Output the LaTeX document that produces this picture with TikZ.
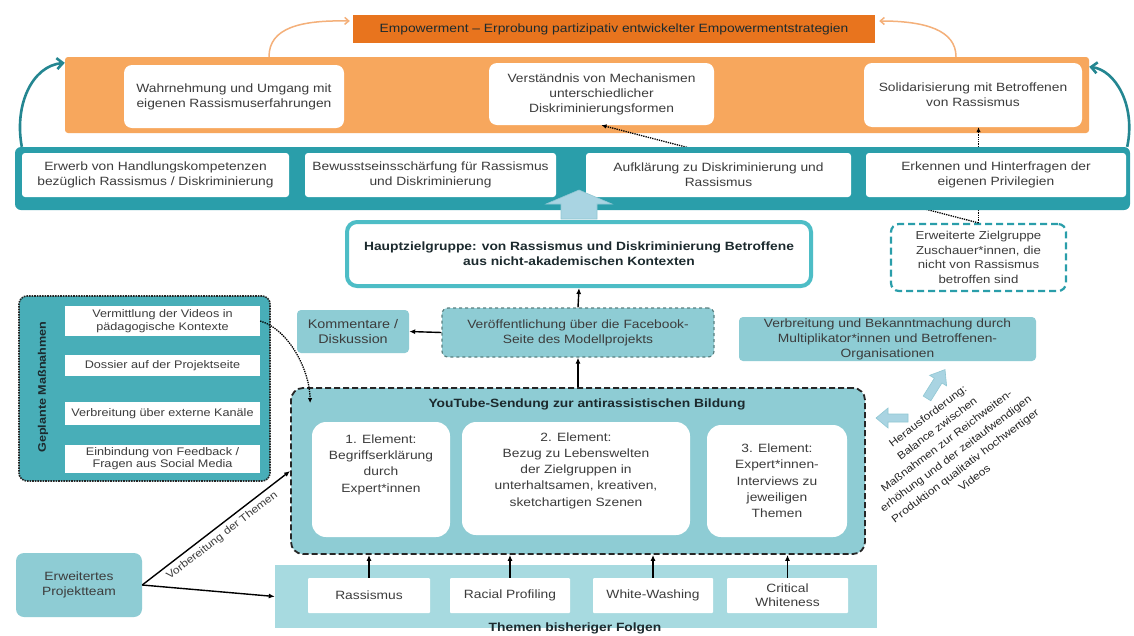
\documentclass[tikz,border=0pt]{standalone}
\usepackage{fontspec}
\setmainfont[FakeStretch=1.15]{Liberation Sans}
\usetikzlibrary{positioning,calc,arrows.meta}

\definecolor{orangedark}{HTML}{E8741E}
\definecolor{orangelight}{HTML}{F7A75D}
\definecolor{orangeline}{HTML}{F4B07A}
\definecolor{tealdark}{HTML}{2A9EAA}
\definecolor{tealmid}{HTML}{48AEB8}
\definecolor{teallight}{HTML}{8ECCD4}
\definecolor{tealpale}{HTML}{A7DAE0}
\definecolor{tealrim}{HTML}{4DBDC6}
\definecolor{blockblue}{HTML}{A9D4E2}
\definecolor{textgrey}{HTML}{3C3C3C}
\definecolor{textdark}{HTML}{1C2A2E}

\tikzset{
  base/.style={rectangle, align=center, inner sep=1pt, text=textgrey,
    font=\fontsize{12}{15}\selectfont},
  whitebox/.style={base, fill=white, rounded corners=#1},
  whitebox/.default=8pt,
  lightbox/.style={base, fill=teallight, rounded corners=4pt},
  smallbox/.style={base, fill=white, minimum width=195pt,
    font=\fontsize{11}{12.5}\selectfont},
  eltext/.style={base, font=\fontsize{12}{16.3}\selectfont},
  pil/.style={-{Latex[length=6pt,width=5pt]}, line width=1.4pt, black},
  dotpil/.style={-{Latex[length=5pt,width=4.5pt]}, densely dotted, line width=1.3pt, black},
  orangepil/.style={-{Straight Barb[length=4pt,width=7pt]}, line width=1.5pt, orangeline},
  tealpil/.style={-{Straight Barb[length=6pt,width=11pt]}, line width=2.6pt, tealdark!85!black},
  blockarrow/.style={fill=blockblue, draw=blockblue!85!teal, line width=0.6pt},
}

\begin{document}
\begin{tikzpicture}[x=1pt,y=-1pt]

\fill[white] (0,0) rectangle (1134,635);
\useasboundingbox (0,0) rectangle (1134,635);

% Empowerment
\node[fill=orangelight, rounded corners=3pt, minimum width=1024pt, minimum height=76pt] (obox) at (577,95) {};
\node[base, fill=orangedark, minimum width=522pt, minimum height=28pt, text=textdark] (emp) at (614,29)
  {Empowerment -- Erprobung partizipativ entwickelter Empowermentstrategien};

\node[whitebox, minimum width=220pt, minimum height=63pt] (w1) at (234,96.5) {Wahrnehmung und Umgang mit\\eigenen Rassismuserfahrungen};
\node[whitebox, minimum width=225pt, minimum height=62pt] (w2) at (601.5,94) {Verständnis von Mechanismen\\unterschiedlicher\\Diskriminierungsformen};
\node[whitebox, minimum width=218pt, minimum height=64pt] (w3) at (973,95) {Solidarisierung mit Betroffenen\\von Rassismus};

\draw[orangepil] ([xshift=-308pt]obox.north) .. controls (269,28) and (300,20) .. ([xshift=-3pt,yshift=8pt]emp.west);
\draw[orangepil] ([xshift=379pt]obox.north) .. controls (956,30) and (925,21) .. ([xshift=4pt,yshift=8pt]emp.east);

% erweiterte Zielgruppe
\node[base, fill=white, draw=tealdark, dash pattern=on 7pt off 4pt, line width=2.2pt, rounded corners=8pt,
  minimum width=175pt, minimum height=67pt, font=\fontsize{11.5}{14.5}\selectfont] (erw) at (978.5,257.5)
  {Erweiterte Zielgruppe\\Zuschauer*innen, die\\nicht von Rassismus\\betroffen sind};

\draw[dotpil] (erw.north) -- (erw.north |- w3.south);
\draw[dotpil] (erw.north) -- (w2.south);

% Wirkungen
\node[fill=tealdark, rounded corners=6pt, minimum width=1115pt, minimum height=63pt] (teal) at (572.5,178.5) {};
\node[whitebox=3pt, minimum width=267pt, minimum height=44pt] (t1) at (155.5,175) {Erwerb von Handlungskompetenzen\\bezüglich Rassismus / Diskriminierung};
\node[whitebox=3pt, minimum width=251pt, minimum height=44pt] (t2) at (430.5,175) {Bewusstseinsschärfung für Rassismus\\und Diskriminierung};
\node[whitebox=3pt, minimum width=265pt, minimum height=44pt] (t3) at (718.5,175) {Aufklärung zu Diskriminierung und\\Rassismus};
\node[whitebox=3pt, minimum width=260pt, minimum height=44pt] (t4) at (996,175) {Erkennen und Hinterfragen der\\eigenen Privilegien};

\draw[tealpil] ([xshift=7pt]teal.north west) .. controls (14,105) and (32,66) .. ([yshift=-6pt]obox.north west);
\draw[tealpil] ([xshift=-3pt]teal.north east) .. controls (1136,105) and (1115,70) .. ([yshift=-10pt]obox.north east);

% Hauptzielgruppe
\node[base, fill=white, draw=tealrim, line width=4pt, rounded corners=10pt, minimum width=464pt, minimum height=64pt,
  font=\bfseries\fontsize{12}{15}\selectfont, text=textdark] (hz) at (579,254)
  {Hauptzielgruppe: von Rassismus und Diskriminierung Betroffene\\aus nicht-akademischen Kontexten};

\filldraw[blockarrow] ([xshift=-18pt,yshift=1pt]hz.north) -- ++(0,-15) -- ++(-15,0) -- ++(33,-14) -- ++(33,14)
  -- ++(-15,0) -- ++(0,15) -- cycle;

% Verbreitung
\node[lightbox, minimum width=112pt, minimum height=43pt, font=\fontsize{12.5}{15}\selectfont] (km) at (353,331.5) {Kommentare /\\Diskussion};
\node[base, fill=teallight, draw=gray!70!teal, dashed, line width=1.2pt, rounded corners=6pt,
  minimum width=272pt, minimum height=49pt] (vf) at (578,332.5) {Veröffentlichung über die Facebook-\\Seite des Modellprojekts};
\node[lightbox, minimum width=297pt, minimum height=44pt, inner sep=0pt] (mp) at (887.5,339)
  {Verbreitung und Bekanntmachung durch\\Multiplikator*innen und Betroffenen-\\Organisationen};

% Geplante Massnahmen
\node[fill=tealmid, draw=black!85, densely dotted, line width=1.6pt, rounded corners=8pt,
  minimum width=251pt, minimum height=185pt] (gm) at (144.5,388.5) {};
\node[rotate=90, font=\bfseries\fontsize{11}{13}\selectfont, text=textdark] (gmlabel) at (43,387) {Geplante Maßnahmen};
\node[smallbox, minimum height=30pt] (g1) at (162.5,321) {Vermittlung der Videos in\\pädagogische Kontexte};
\node[smallbox, minimum height=21pt] (g2) at (162.5,365.5) {Dossier auf der Projektseite};
\node[smallbox, minimum height=23pt] (g3) at (162.5,413.5) {Verbreitung über externe Kanäle};
\node[smallbox, minimum height=28pt] (g4) at (162.5,458.5) {Einbindung von Feedback /\\Fragen aus Social Media};

% YouTube-Sendung
\node[fill=teallight, draw=black!85, dash pattern=on 6pt off 3pt, line width=1.8pt, rounded corners=12pt,
  minimum width=574pt, minimum height=166pt] (yt) at (578,471) {};
\node[font=\bfseries\fontsize{12}{15}\selectfont, text=textdark] (yttitle) at (587,404) {YouTube-Sendung zur antirassistischen Bildung};

\node[whitebox=14pt, minimum width=138pt, minimum height=115pt] (e1) at (381,479.5) {};
\node[whitebox=14pt, minimum width=228pt, minimum height=113pt] (e2) at (576,478.5) {};
\node[whitebox=14pt, minimum width=140pt, minimum height=112pt] (e3) at (777,481) {};
\node[eltext] (e1txt) at ([yshift=15pt]e1.center) {1. Element:\\Begriffserklärung\\durch\\Expert*innen};
\node[eltext] (e2txt) at ([yshift=8pt]e2.center) {2. Element:\\Bezug zu Lebenswelten\\der Zielgruppen in\\unterhaltsamen, kreativen,\\sketchartigen Szenen};
\node[eltext] (e3txt) at (e3.center) {3. Element:\\Expert*innen-\\Interviews zu\\jeweiligen\\Themen};

\coordinate (ytin) at ([xshift=20pt,yshift=-16pt]yt.north west);
\draw[dotpil] (g1.east) .. controls (290,330) and (310,372) .. (ytin);

% Themen
\node[fill=tealpale, minimum width=602pt, minimum height=63pt] (themen) at (576,596.5) {};
\node[whitebox=1pt, minimum width=122pt, minimum height=35pt] (th1) at (369,595.5) {Rassismus};
\node[whitebox=1pt, minimum width=120pt, minimum height=35pt] (th2) at (510,595.5) {Racial Profiling};
\node[whitebox=1pt, minimum width=120pt, minimum height=35pt] (th3) at (653,595.5) {White-Washing};
\node[whitebox=1pt, minimum width=121pt, minimum height=35pt, font=\fontsize{12}{14}\selectfont] (th4) at (787.5,595.5) {Critical\\Whiteness};
\node[font=\bfseries\fontsize{12}{14}\selectfont, text=textdark] (themenlbl) at (575,628) {Themen bisheriger Folgen};

\foreach \t in {th1,th2,th3,th4}
  \draw[pil] (\t.north) -- (\t.north |- yt.south);

\node[lightbox, rounded corners=8pt, minimum width=126pt, minimum height=64pt] (team) at (79,585) {Erweitertes\\Projektteam};
\draw[pil] (team.east) -- (yt.west) node[midway, sloped, below=1pt, font=\fontsize{10.5}{12}\selectfont, text=textgrey] (vlabel) {Vorbereitung der Themen};
\draw[pil] (team.east) -- (themen.west);

% Pfeile Mitte
\draw[pil] (yt.north) -- (vf.south);
\draw[pil] (vf.north) -- (hz.south);
\draw[pil] (vf.west) -- (km.east);

% Herausforderung
\filldraw[blockarrow] (908,414) -- (888,414) -- (888,408) -- (876,418) -- (888,428) -- (888,422) -- (908,422) -- cycle;
\begin{scope}[shift={(936,384)}, rotate=58]
  \filldraw[blockarrow] (-17,-4.5) -- (4,-4.5) -- (4,-10) -- (17,0) -- (4,10) -- (4,4.5) -- (-17,4.5) -- cycle;
\end{scope}
\node[rotate=37, align=center, font=\fontsize{10.5}{15.5}\selectfont, text=black!85] (challenge) at (951,447)
  {Herausforderung:\\Balance zwischen\\Maßnahmen zur Reichweiten-\\erhöhung und der zeitaufwendigen\\Produktion qualitativ hochwertiger\\Videos};

\end{tikzpicture}
\end{document}
